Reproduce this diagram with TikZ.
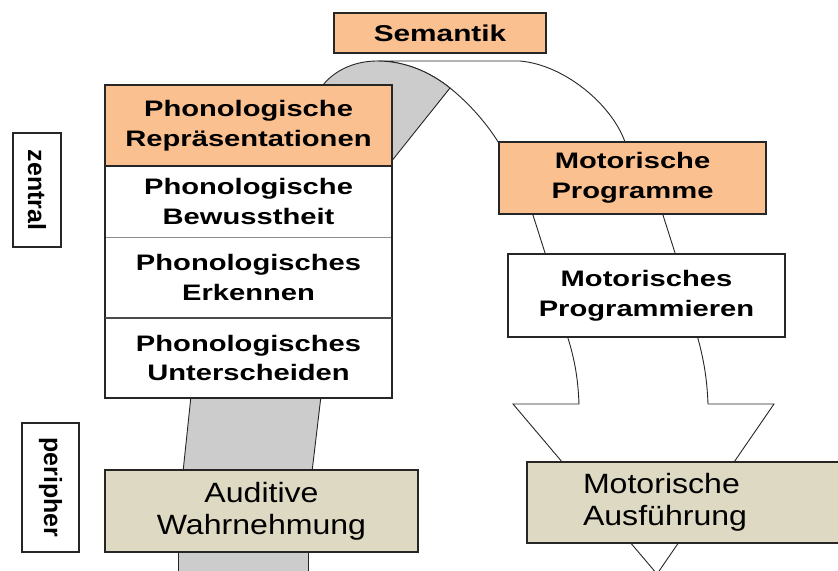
\documentclass[tikz,border=0pt]{standalone}
\usepackage{fontspec}
\setmainfont{Liberation Sans}
\newfontfamily\widesans{Liberation Sans}[FakeStretch=1.3]
\newfontfamily\softsans{Liberation Sans}[FakeStretch=1.15]
\usetikzlibrary{positioning,backgrounds,calc}
\definecolor{peach}{HTML}{FAC090}
\definecolor{tanfill}{HTML}{DDD9C3}
\definecolor{bandgray}{HTML}{CCCCCC}
\definecolor{rim}{HTML}{262626}

\begin{document}
\begin{tikzpicture}[x=1bp, y=-1bp, every node/.style={align=center, inner sep=0pt, outer sep=0pt},
  stage/.style={draw=rim, line width=1.5bp, font=\widesans\bfseries\fontsize{22.5}{30}\selectfont},
  hot/.style={stage, fill=peach},
  quiet/.style={stage, fill=white, draw=black!45, line width=0.8bp},
  motor/.style={stage, fill=white},
  periph/.style={stage, fill=tanfill, font=\softsans\fontsize{28}{32}\selectfont},
  levelbox/.style={draw=rim, line width=1.5bp, fill=white, rotate=-90, font=\bfseries\fontsize{25}{25}\selectfont},
  rimline/.style={draw=rim, line width=0.9bp}]
\useasboundingbox (0,0) rectangle (838,571);

% top
\node[hot, minimum width=212bp, minimum height=40bp, font=\widesans\bfseries\fontsize{23}{28}\selectfont] (sem) at (440,33) {Semantik};

% left column
\node[hot, minimum width=287bp, minimum height=81bp] (repr) at (248.5,125.5) {Phonologische\\Repräsentationen};
\node[quiet, minimum width=287bp, minimum height=71bp, below=0pt of repr] (bew) {Phonologische\\Bewusstheit};
\node[quiet, minimum width=287bp, minimum height=81bp, below=0pt of bew] (erk) {Phonologisches\\Erkennen};
\node[quiet, minimum width=287bp, minimum height=80bp, below=0pt of erk] (unt) {Phonologisches\\Unterscheiden};
\draw[rim, line width=1.5bp] (repr.north west) rectangle (unt.south east) (repr.south west) -- (repr.south east);
\draw[black!70, line width=1.2bp] (unt.north west) -- (unt.north east);
\node[periph, minimum width=313bp, minimum height=82bp] (aud) at (261.5,511) {Auditive\\Wahrnehmung};

% right column
\node[hot, minimum width=267bp, minimum height=72bp] (prog) at (632.5,178) {Motorische\\Programme};
\node[motor, minimum width=277bp, minimum height=83bp] (progm) at (646.5,295.5) {Motorisches\\Programmieren};
\node[periph, anchor=west, minimum height=81bp, text width=220bp, inner xsep=56bp, align=left] (ausf) at (527,502.5) {Motorische\\Ausführung};

% levels
\node[levelbox, minimum width=114bp, minimum height=48bp] (zen) at (37,190) {zentral};
\node[levelbox, minimum width=129bp, minimum height=57bp] (per) at (50.5,487.5) {peripher};

\begin{scope}[on background layer]
% arch from phonology to motor side
\filldraw[fill=white, rimline] (377,61) -- (520,61) .. controls (565,65) and (612,105) .. (625,142) -- (625,152) -- (500,152) -- (500,145)
  .. controls (485,120) and (465,100) .. (450,88) .. controls (430,72) and (405,61) .. (377,61) -- cycle;
\filldraw[fill=bandgray, rimline] (323,92) -- (323,85) .. controls (335,70) and (355,61) .. (377,61) .. controls (405,61) and (430,72) .. (450,88)
  -- (392.5,160) -- (385,160) -- (385,92) -- cycle;
% bands
\filldraw[fill=bandgray, rimline] ($(unt.south west)+(86,-2)$) -- ($(aud.north west)+(78,2)$) -- ($(aud.north west)+(207,2)$) -- ($(unt.south west)+(216,-2)$) -- cycle;
\filldraw[fill=bandgray, rimline] ($(aud.south west)+(73,-2)$) -- ($(aud.south west)+(73,30)$) -- ($(aud.south west)+(203,30)$) -- ($(aud.south west)+(203,-2)$) -- cycle;
\filldraw[fill=white, rimline] ($(prog.south west)+(33,-2)$) -- ($(progm.north west)+(38,2)$) -- ($(progm.north west)+(168,2)$) -- ($(prog.south west)+(163,-2)$) -- cycle;
\filldraw[fill=white, rimline] ($(progm.south west)+(59,-2)$) .. controls +(8,25) and +(-1,-25) .. (579,404) -- (513,404) -- (657,574) -- (774,404) -- (708,404)
  .. controls +(-1,-25) and +(7,25) .. ($(progm.south west)+(189,-2)$) -- cycle;
\end{scope}
\end{tikzpicture}
\end{document}
